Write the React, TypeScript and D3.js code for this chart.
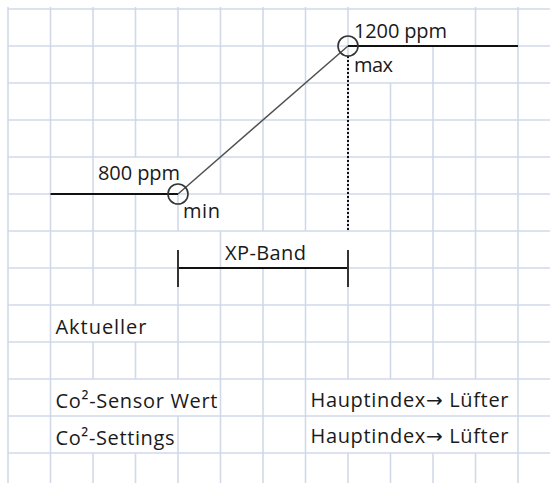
import { useEffect, useRef } from "react";
import * as d3 from "d3";

// curve of the controller: flat at min, ramp across the XP band, flat at max
const curveCols = [1, 4, 8, 12];
const curvePpm = [800, 800, 1200, 1200];

const markerCols = [4, 8];
const markerPpm = [800, 1200];
const markerNames = ["min", "max"];
const levelLabels = ["800 ppm", "1200 ppm"];

const bandCols = [4, 8];
const bandLabel = "XP-Band";

const infoLeft = ["Aktueller", "Co²-Sensor Wert", "Co²-Settings"];
const infoRight = ["Hauptindex→ Lüfter", "Hauptindex→ Lüfter"];

const W = 550,
  H = 483;

const App = () => {
  const ref = useRef<SVGSVGElement>(null);

  useEffect(() => {
    const svg = d3.select(ref.current);
    svg.selectAll("*").remove();

    // spreadsheet grid
    const x = d3.scaleLinear().domain([0, 12]).range([8, 518]);
    const y = d3.scaleLinear().domain([0, 12]).range([9, 453]);
    const ppm = d3
      .scaleLinear()
      .domain([800, 1200])
      .range([y(5), y(1)]);

    const font = "'Open Sans', 'Noto Sans', 'DejaVu Sans', sans-serif";

    /*** labels (text boxes, widths as in the picture) ***/
    const labels = [
      { text: levelLabels[0], x: x(2) + 5, y: y(5) - 14, w: 82, row: 4 },
      { text: levelLabels[1], x: x(8) + 6, y: y(1) - 8.5, w: 93, row: 0 },
      { text: markerNames[0], x: x(4) + 5, y: y(6) - 13.5, w: 37, row: 5 },
      { text: markerNames[1], x: x(8) + 6, y: y(2) - 11, w: 39, row: 1 },
      { text: bandLabel, x: x(5) + 4.5, y: y(7) - 8, w: 81, row: 6 },
      { text: infoLeft[0], x: x(1) + 5, y: y(9) - 8, w: 91, row: 8 },
      { text: infoLeft[1], x: x(1) + 5, y: y(11) - 8, w: 162, row: 10 },
      { text: infoLeft[2], x: x(1) + 5, y: y(12) - 8, w: 119, row: 11 },
      { text: infoRight[0], x: x(7) + 5, y: y(11) - 9, w: 198, row: 10 },
      { text: infoRight[1], x: x(7) + 5, y: y(12) - 10, w: 198, row: 11 },
    ];

    // vertical grid segments covered by overflowing text are not drawn
    const extraHidden = [
      { col: 4, row: 6 },
      { col: 8, row: 6 },
    ];
    const hidden = (col: number, row: number) =>
      labels.some(
        (l) => l.row === row && x(col) > l.x && x(col) < l.x + l.w + 2
      ) || extraHidden.some((h) => h.col === col && h.row === row);

    svg.append("rect").attr("width", W).attr("height", H).attr("fill", "#fff");

    const grid = svg
      .append("g")
      .attr("stroke", "#d1d9e8")
      .attr("stroke-width", 1.6);

    d3.range(14).forEach((r) => {
      grid
        .append("line")
        .attr("x1", x(0))
        .attr("x2", W)
        .attr("y1", y(r))
        .attr("y2", y(r));
    });

    d3.range(13).forEach((c) => {
      d3.range(13).forEach((r) => {
        if (hidden(c, r)) return;
        grid
          .append("line")
          .attr("x1", x(c))
          .attr("x2", x(c))
          .attr("y1", r === 0 ? 7 : y(r))
          .attr("y2", Math.min(y(r + 1), H));
      });
    });

    /*** curve ***/
    const pts = curveCols.map((c, i) => [x(c), ppm(curvePpm[i])] as [number, number]);
    d3.pairs(pts).forEach(([a, b]) => {
      const flat = a[1] === b[1];
      svg
        .append("line")
        .attr("x1", a[0])
        .attr("y1", a[1])
        .attr("x2", b[0])
        .attr("y2", b[1])
        .attr("stroke", flat ? "#111" : "#505050")
        .attr("stroke-width", flat ? 2 : 1.5);
    });

    // dotted drop from max down to the band
    svg
      .append("line")
      .attr("x1", x(markerCols[1]))
      .attr("x2", x(markerCols[1]))
      .attr("y1", ppm(markerPpm[1]) + 10)
      .attr("y2", y(6))
      .attr("stroke", "#111")
      .attr("stroke-width", 2)
      .attr("stroke-dasharray", "2,2");

    // min / max circles
    svg
      .selectAll(".marker")
      .data(markerCols)
      .enter()
      .append("circle")
      .attr("cx", (c) => x(c))
      .attr("cy", (_, i) => ppm(markerPpm[i]))
      .attr("r", 10)
      .attr("fill", "none")
      .attr("stroke", "#333")
      .attr("stroke-width", 1.6);

    /*** XP band bracket ***/
    const by = y(7);
    svg
      .append("line")
      .attr("x1", x(bandCols[0]))
      .attr("x2", x(bandCols[1]))
      .attr("y1", by)
      .attr("y2", by)
      .attr("stroke", "#111")
      .attr("stroke-width", 1.8);
    bandCols.forEach((c) => {
      svg
        .append("line")
        .attr("x1", x(c))
        .attr("x2", x(c))
        .attr("y1", by - 18)
        .attr("y2", by + 19)
        .attr("stroke", "#333")
        .attr("stroke-width", 2);
    });

    /*** texts ***/
    svg
      .selectAll(".label")
      .data(labels)
      .enter()
      .append("text")
      .attr("x", (d) => d.x)
      .attr("y", (d) => d.y)
      .attr("textLength", (d) => d.w)
      .attr("lengthAdjust", "spacing")
      .attr("fill", "#1a1a1a")
      .style("font-family", font)
      .style("font-size", "20px")
      .text((d) => d.text);
  }, []);

  return (
    <svg
      ref={ref}
      width={W}
      height={H}
      style={{ position: "absolute", left: 0, top: 0, display: "block" }}
    />
  );
};

export default App;
